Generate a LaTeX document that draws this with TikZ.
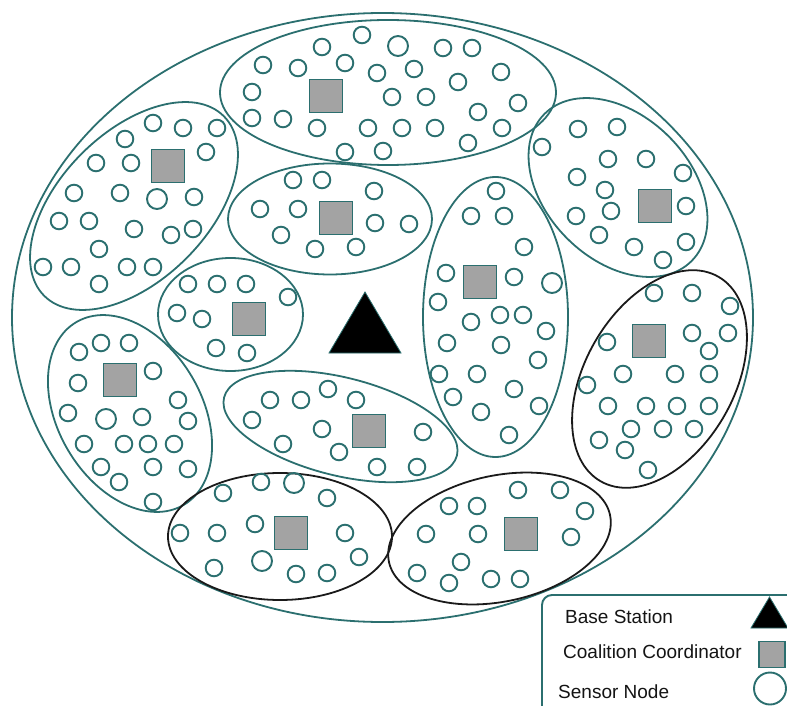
\documentclass[tikz,border=0pt]{standalone}
\usepackage{fontspec}
\setmainfont{Liberation Sans}
\definecolor{netteal}{HTML}{2B6F6F}
\definecolor{coordgray}{HTML}{A3A3A3}
\definecolor{zoneblack}{HTML}{1A1A1A}
\begin{document}
\begin{tikzpicture}[x=1pt,y=-1pt,
  zone/.style={draw=netteal, line width=1.8pt},
  bzone/.style={draw=zoneblack, line width=1.8pt},
  sensor/.style={draw=netteal, line width=1.9pt},
  coordbox/.style={draw=netteal, fill=coordgray, line width=1.9pt,
    rectangle, minimum size=33pt, inner sep=0pt},
  station/.style={fill=black, draw=netteal, line width=0.8pt, line join=miter},
  legendbox/.style={draw=netteal, fill=white, line width=1.9pt, rounded corners=10pt},
  legendtext/.style={anchor=base west, inner sep=0pt, text=black!92,
    font=\fontsize{19}{22}\selectfont}]
\useasboundingbox (0,0) rectangle (787,706);
\clip (0,0) rectangle (787,706);

% network area
\draw[zone] (382.5,317.5) ellipse [x radius=370.5, y radius=304.5];

% coalitions
\draw[zone] (388,92.5) ellipse [x radius=168, y radius=72.5];
\draw[zone, rotate around={45:(134,206)}] (134,206) ellipse [x radius=127, y radius=74];
\draw[zone] (330,219) ellipse [x radius=102, y radius=55.5];
\draw[zone] (230.5,314.5) ellipse [x radius=72.5, y radius=56.5];
\draw[zone, rotate around={-59.6:(130,413.5)}] (130,413.5) ellipse [x radius=106, y radius=72];
\draw[zone, rotate around={-14:(340.5,426.5)}] (340.5,426.5) ellipse [x radius=120, y radius=49];
\draw[zone] (495.5,317) ellipse [x radius=72.5, y radius=140];
\draw[zone, rotate around={-45:(618,187.5)}] (618,187.5) ellipse [x radius=104, y radius=72];
\draw[bzone] (280,536.5) ellipse [x radius=112, y radius=63.5];
\draw[bzone, rotate around={12:(499.5,538.5)}] (499.5,538.5) ellipse [x radius=113, y radius=63];
\draw[bzone, rotate around={60:(659.5,379)}] (659.5,379) ellipse [x radius=118, y radius=74.5];

% sensor nodes
\foreach \p in {
  (322,47),(362,35),(443,48),(472,48),
  (263,65),(298,68),(345,63),(377,73),(414,69),(458,82),(501,72),
  (252,92),(392,97),(426,97),(518,103),(478,112),
  (252,118),(283,119),(317,128),(368,128),(402,128),(435,128),(502,128),
  (345,152),(383,151),(468,143),
  (153,123),(183,128),(217,128),(125,139),(206,152),(96,163),(131,163),
  (74,193),(120,193),(194,197),(59,221),(89,221),(134,229),(171,235),
  (193,229),(99,249),(43,267),(71,267),(127,267),(153,267),(99,284),
  (293,180),(322,180),(374,191),(260,209),(298,209),(375,223),(409,224),
  (281,235),(315,249),(356,247),
  (188,284),(217,284),(246,284),(288,297),(177,313),(202,319),(216,348),(247,353),
  (79,352),(101,343),(129,343),(153,371),(78,383),(68,413),(142,417),
  (178,400),(188,421),(84,444),(124,444),(148,444),(174,444),(101,467),
  (153,467),(188,469),(119,482),(153,502),
  (270,400),(301,400),(328,389),(356,400),(252,420),(322,429),(283,444),
  (339,452),(377,467),(423,432),(417,467),
  (223,493),(261,482),(327,498),(180,533),(217,533),(255,524),(345,533),
  (359,557),(214,568),(296,574),(327,573),
  (518,490),(560,490),(449,506),(477,506),(585,511),(426,534),(478,534),
  (571,537),(461,562),(417,573),(449,583),(491,579),(520,579),
  (654,293),(692,293),(730,306),(728,333),(607,342),(692,333),(709,351),
  (587,385),(623,374),(675,374),(709,374),(608,406),(646,406),(677,406),
  (709,406),(631,429),(663,429),(694,429),(599,440),(625,450),(648,470),
  (496,191),(471,216),(504,216),(524,247),(446,273),(514,277),(438,302),
  (471,322),(500,315),(523,315),(546,331),(447,343),(501,345),(538,360),
  (439,374),(477,374),(514,389),(453,397),(539,406),(481,412),(509,435),
  (542,147),(578,129),(617,127),(608,159),(646,159),(683,173),(577,177),
  (605,190),(686,206),(611,211),(576,216),(599,235),(634,247),(686,242),(663,260)}
  \draw[sensor] \p circle [radius=8.3];
% larger sensor nodes
\foreach \p in {(398,46),(157,199),(106,419),(294,483),(262,561),(552,283)}
  \draw[sensor] \p circle [radius=10];

% coalition coordinators
\node[coordbox] (ccA) at (326,96) {};
\node[coordbox] (ccB) at (168,166) {};
\node[coordbox] (ccC) at (336,218) {};
\node[coordbox] (ccD) at (249,319) {};
\node[coordbox] (ccE) at (120,380) {};
\node[coordbox] (ccF) at (369,431) {};
\node[coordbox] (ccG) at (291,533) {};
\node[coordbox] (ccH) at (521,534) {};
\node[coordbox] (ccI) at (649,341) {};
\node[coordbox] (ccJ) at (480,282) {};
\node[coordbox] (ccK) at (655,206) {};

% base station
\draw[station] (365,292) -- (401,353) -- (329,353) -- cycle;

% legend
\draw[legendbox] (542,595) rectangle (810,730);
\node[legendtext] (lbs) at (565,623) {Base Station};
\node[legendtext] (lcc) at (563,658) {Coalition Coordinator};
\node[legendtext] (lsn) at (558,698) {Sensor Node};
\draw[station] (769.5,597) -- (788,628) -- (751,628) -- cycle;
\node[coordbox, minimum size=26pt] (lsq) at (772,654.5) {};
\draw[sensor] (770,688.5) circle [radius=16];
\end{tikzpicture}
\end{document}
